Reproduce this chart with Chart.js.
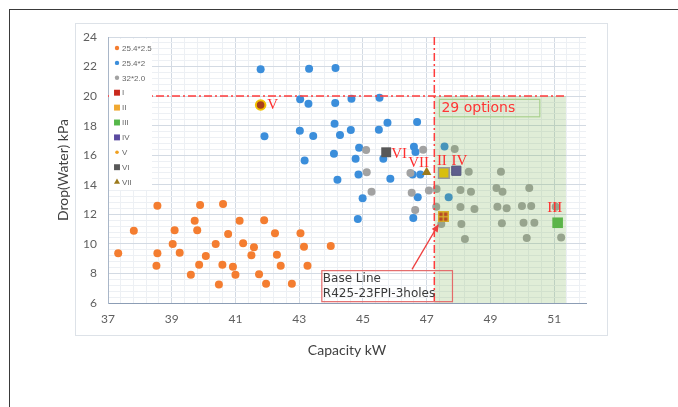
<!DOCTYPE html>
<html>
<head>
<meta charset="utf-8">
<script src="https://cdn.jsdelivr.net/npm/chart.js@4.4.0/dist/chart.umd.min.js"></script>
<style>
  html, body { margin: 0; padding: 0; background: #fff; }
  #wrap { position: relative; width: 678px; height: 407px; overflow: hidden; }
  #edge { position: absolute; left: 9px; top: 9px; right: -2px; bottom: -2px; border-left: 1px solid #3a3a3a; border-top: 1px solid #3a3a3a; }
  #frame { position: absolute; left: 75px; top: 23px; width: 531px; height: 311px; border: 1px solid #dde2e8; }
  canvas { position: absolute; left: 0; top: 0; }
</style>
</head>
<body>
<div id="wrap">
  <div id="edge"></div>
  <div id="frame"></div>
  <canvas id="chart" width="678" height="407"></canvas>
</div>
<script>
// tick labels
const xMajor = [37, 39, 41, 43, 45, 47, 49, 51];
const yMajor = [6, 8, 10, 12, 14, 16, 18, 20, 22, 24];

// capacity kW, drop kPa
const tube25x25 = [
  [37.32, 9.36], [37.81, 10.89], [38.55, 12.58], [38.55, 9.36], [38.52, 8.52],
  [39.09, 10.92], [39.03, 9.99], [39.25, 9.40], [39.72, 11.57], [39.80, 10.92],
  [39.89, 12.63], [39.60, 7.91], [39.86, 8.59], [40.07, 9.18], [40.38, 9.99],
  [40.61, 12.70], [40.77, 10.67], [40.59, 8.59], [40.48, 7.26], [40.92, 8.46],
  [41.00, 7.91], [41.13, 11.57], [41.24, 10.04], [41.58, 9.77], [41.50, 9.23],
  [41.74, 7.94], [41.90, 11.60], [42.24, 10.72], [43.04, 10.72], [42.30, 9.27],
  [42.42, 8.52], [41.96, 7.31], [42.77, 7.31], [43.15, 9.81], [43.26, 8.52],
  [43.99, 9.86]
];
const tube25x2 = [
  [41.79, 21.81], [43.31, 21.85], [44.14, 21.90], [43.03, 19.78], [43.29, 19.49],
  [44.13, 19.53], [44.64, 19.82], [45.52, 19.89], [44.11, 18.13], [45.77, 18.20],
  [46.70, 18.25], [43.02, 17.66], [43.44, 17.30], [44.28, 17.37], [44.62, 17.71],
  [45.50, 17.73], [41.91, 17.28], [44.88, 16.51], [44.09, 16.10], [43.17, 15.65],
  [44.77, 15.76], [45.64, 15.76], [46.60, 16.58], [46.65, 16.22], [44.86, 14.70],
  [44.20, 14.34], [45.86, 14.41], [46.56, 14.70], [46.80, 14.70], [44.99, 13.08],
  [46.72, 13.15], [44.84, 11.68], [46.58, 11.75], [47.56, 16.59], [47.69, 13.15]
];
const tube32x2 = [
  [45.10, 16.35], [45.12, 14.84], [45.27, 13.53], [46.49, 14.80], [46.53, 13.46],
  [46.64, 12.29], [46.89, 16.37], [47.07, 13.62], [47.30, 12.52], [47.88, 16.42],
  [48.32, 14.88], [49.33, 14.88], [47.31, 13.72], [48.06, 13.65], [48.39, 13.53],
  [49.19, 13.78], [49.38, 13.53], [50.22, 13.78], [48.06, 12.50], [48.50, 12.36],
  [49.22, 12.52], [49.51, 12.41], [49.99, 12.56], [50.28, 12.56], [51.05, 12.52],
  [47.46, 11.35], [48.09, 11.35], [49.36, 11.39], [50.04, 11.43], [50.38, 11.43],
  [48.20, 10.33], [50.14, 10.40], [51.22, 10.44]
];
const optI = [47.52, 11.84];
const optII = [47.54, 14.80];
const optIII = [51.11, 11.43];
const optIV = [47.93, 14.95];
const optV = [41.79, 19.40];
const optVI = [45.73, 16.20];
const optVII = [47.00, 14.84];

// limits
const limitCapacity = 47.24;
const limitDrop = 20;

const pts = arr => arr.map(p => ({ x: p[0], y: p[1] }));
const isMajor = (v, list) => list.some(m => Math.abs(m - v) < 1e-6);
const gridSteps = (lo, hi, step) => {
  const out = [];
  for (let i = 0; lo + i * step <= hi + 1e-6; i++) out.push({ value: +(lo + i * step).toFixed(4) });
  return out;
};

// base line marker
const baseMark = document.createElement('canvas');
baseMark.width = 11; baseMark.height = 11;
const b = baseMark.getContext('2d');
b.fillStyle = '#c9281c'; b.fillRect(0, 0, 11, 11);
b.strokeStyle = '#f2b322'; b.lineWidth = 1.4;
b.strokeRect(0.7, 0.7, 9.6, 9.6);
b.beginPath(); b.moveTo(5.5, 0); b.lineTo(5.5, 11); b.moveTo(0, 5.5); b.lineTo(11, 5.5); b.stroke();

const datasets = [
  { label: '25.4*2.5', data: pts(tube25x25), backgroundColor: '#f47d30', pointRadius: 4, order: 3, legendRadius: 2.2 },
  { label: '25.4*2', data: pts(tube25x2), backgroundColor: '#3b8edb', pointRadius: 4, order: 2, legendRadius: 2.2 },
  { label: '32*2.0', data: pts(tube32x2), backgroundColor: '#a2a2a2', pointRadius: 4, order: 1, legendRadius: 2.2 },
  { label: 'I', data: pts([optI]), pointStyle: baseMark, backgroundColor: '#c9281c', pointRadius: 6,
    legendStyle: 'rect', legendRadius: 4.2 },
  { label: 'II', data: pts([optII]), pointStyle: 'rect', backgroundColor: '#f5c400', borderColor: '#9f93b8',
    borderWidth: 1.5, pointRadius: 7.5, legendColor: '#f0a830', legendRadius: 4.2, tag: 'II', tagDx: -2, tagDy: -12 },
  { label: 'III', data: pts([optIII]), pointStyle: 'rect', backgroundColor: '#55b749', pointRadius: 7.5,
    legendRadius: 4.2, tag: 'III', tagDx: -3, tagDy: -15 },
  { label: 'IV', data: pts([optIV]), pointStyle: 'rect', backgroundColor: '#5a4aa0', borderColor: '#4a3c8c',
    borderWidth: 1, pointRadius: 6.5, legendRadius: 4.2, tag: 'IV', tagDx: 3, tagDy: -10 },
  { label: 'V', data: pts([optV]), pointStyle: 'circle', backgroundColor: '#a8401c', borderColor: '#f2c200',
    borderWidth: 2, pointRadius: 4.8, legendColor: '#f0a020', legendRadius: 1.8, tag: 'V', tagDx: 12, tagDy: 0 },
  { label: 'VI', data: pts([optVI]), pointStyle: 'rect', backgroundColor: '#585858', pointRadius: 7,
    legendRadius: 4.2, tag: 'VI', tagDx: 13, tagDy: 2 },
  { label: 'VII', data: pts([optVII]), pointStyle: 'triangle', backgroundColor: '#9c7a1c', pointRadius: 5.5,
    legendRadius: 3.5, tag: 'VII', tagDx: -8, tagDy: -9 }
];
datasets.forEach(d => { if (d.borderWidth === undefined) d.borderWidth = 0; if (d.order === undefined) d.order = 0; });

const overlay = {
  id: 'overlay',
  afterDatasetsDraw(chart, args, o) {
    const { ctx, chartArea: a, scales: { x, y } } = chart;
    ctx.save();
    const zx = x.getPixelForValue(o.refX), zr = x.getPixelForValue(o.zoneEnd);
    const zt = y.getPixelForValue(o.refY);
    ctx.fillStyle = 'rgba(112,173,71,0.22)';
    ctx.fillRect(zx, zt, zr - zx, a.bottom - zt);

    ctx.strokeStyle = '#ff3c3c'; ctx.lineWidth = 1.5; ctx.setLineDash([8, 3, 2, 3]);
    ctx.beginPath();
    ctx.moveTo(a.left, zt); ctx.lineTo(zr, zt);
    ctx.moveTo(zx, a.top); ctx.lineTo(zx, a.bottom);
    ctx.stroke();
    ctx.setLineDash([]);

    // 29 options box
    const ob = o.optionsBox;
    const ox1 = x.getPixelForValue(ob.x1), ox2 = x.getPixelForValue(ob.x2);
    const oy1 = y.getPixelForValue(ob.y1), oy2 = y.getPixelForValue(ob.y2);
    ctx.strokeStyle = '#a9d18e'; ctx.lineWidth = 1.2;
    ctx.strokeRect(ox1, oy1, ox2 - ox1, oy2 - oy1);
    ctx.fillStyle = '#ff3535'; ctx.font = '14px "DejaVu Sans"';
    ctx.textAlign = 'left'; ctx.textBaseline = 'middle';
    ctx.fillText(ob.text, ox1 + 2, (oy1 + oy2) / 2 + 0.5);

    // base line box
    const bb = o.baseBox;
    const bx1 = x.getPixelForValue(bb.x1), bx2 = x.getPixelForValue(bb.x2);
    const by1 = y.getPixelForValue(bb.y1), by2 = y.getPixelForValue(bb.y2);
    ctx.strokeStyle = '#e46a6a'; ctx.lineWidth = 1.2;
    ctx.strokeRect(bx1, by1, bx2 - bx1, by2 - by1);
    ctx.fillStyle = '#3a3a3a'; ctx.font = '12px "DejaVu Sans"';
    bb.lines.forEach((t, i) => ctx.fillText(t, bx1 + 1, by1 + 8.5 + i * 15));

    // arrow
    const ax1 = x.getPixelForValue(bb.arrowFrom[0]), ay1 = y.getPixelForValue(bb.arrowFrom[1]);
    const ax2 = x.getPixelForValue(bb.arrowTo[0]), ay2 = y.getPixelForValue(bb.arrowTo[1]);
    const ang = Math.atan2(ay2 - ay1, ax2 - ax1);
    ctx.strokeStyle = '#ee4040'; ctx.fillStyle = '#ee4040'; ctx.lineWidth = 1.3;
    ctx.beginPath(); ctx.moveTo(ax1, ay1);
    ctx.lineTo(ax2 - 6 * Math.cos(ang), ay2 - 6 * Math.sin(ang)); ctx.stroke();
    ctx.beginPath();
    ctx.moveTo(ax2, ay2);
    ctx.lineTo(ax2 - 8 * Math.cos(ang) + 3.5 * Math.sin(ang), ay2 - 8 * Math.sin(ang) - 3.5 * Math.cos(ang));
    ctx.lineTo(ax2 - 8 * Math.cos(ang) - 3.5 * Math.sin(ang), ay2 - 8 * Math.sin(ang) + 3.5 * Math.cos(ang));
    ctx.closePath(); ctx.fill();

    // point tags
    ctx.font = '15px "Liberation Serif"'; ctx.fillStyle = '#ff2e2e'; ctx.textAlign = 'center';
    chart.data.datasets.forEach((ds, i) => {
      if (!ds.tag) return;
      const el = chart.getDatasetMeta(i).data[0];
      ctx.fillText(ds.tag, el.x + ds.tagDx, el.y + ds.tagDy);
    });

    // legend inside plot
    ctx.fillStyle = '#fff';
    ctx.fillRect(a.left + 1, a.top + 2, 43, 151);
    ctx.font = '8px "Liberation Sans"'; ctx.textAlign = 'left';
    chart.data.datasets.forEach((ds, i) => {
      const lx = a.left + 9, ly = a.top + 11 + i * 14.9;
      ctx.fillStyle = ds.legendColor || ds.backgroundColor;
      Chart.helpers.drawPoint(ctx, { pointStyle: ds.legendStyle || ds.pointStyle, radius: ds.legendRadius,
        rotation: 0, borderWidth: 0 }, lx, ly);
      ctx.fillStyle = '#666';
      ctx.fillText(ds.label, lx + 5, ly + 0.5);
    });
    ctx.restore();
  }
};

const majorGrid = '#d3dae3', minorGrid = '#edf0f4';

new Chart(document.getElementById('chart'), {
  type: 'scatter',
  data: { datasets },
  plugins: [overlay],
  options: {
    responsive: false,
    animation: false,
    events: [],
    layout: { padding: { left: 0, top: 37, right: 92, bottom: 0 } },
    plugins: {
      legend: { display: false },
      tooltip: { enabled: false },
      overlay: {
        refX: limitCapacity,
        refY: limitDrop,
        zoneEnd: 51.37,
        optionsBox: { x1: 47.40, x2: 50.55, y1: 19.78, y2: 18.60, text: '29 options' },
        baseBox: { x1: 43.71, x2: 47.81, y1: 8.19, y2: 6.09, lines: ['Base Line', 'R425-23FPI-3holes'],
          arrowFrom: [46.54, 8.28], arrowTo: [47.38, 11.35] }
      }
    },
    scales: {
      x: {
        type: 'linear', min: 37, max: 52,
        afterBuildTicks: ax => { ax.ticks = gridSteps(37, 52, 0.4); },
        afterFit: ax => { ax.height = 104; },
        ticks: {
          autoSkip: false, maxRotation: 0, padding: 9, color: '#5f5f5f',
          font: { family: 'Lato', size: 12 },
          callback: v => isMajor(v, xMajor) ? String(Math.round(v)) : ''
        },
        grid: { drawTicks: false, color: c => isMajor(c.tick.value, xMajor) ? majorGrid : minorGrid },
        border: { color: '#8c9db5' },
        title: { display: true, text: 'Capacity kW', color: '#404040', font: { family: 'Lato', size: 14 },
          padding: { top: 0, bottom: 48 } }
      },
      y: {
        type: 'linear', min: 6, max: 24,
        afterBuildTicks: ax => { ax.ticks = gridSteps(6, 24, 0.4); },
        afterFit: ax => { ax.width = 108; },
        ticks: {
          autoSkip: false, padding: 11, color: '#5f5f5f',
          font: { family: 'Lato', size: 12 },
          callback: v => isMajor(v, yMajor) ? String(Math.round(v)) : ''
        },
        grid: { drawTicks: false, color: c => isMajor(c.tick.value, yMajor) ? majorGrid : minorGrid },
        border: { color: '#a9b6c8' },
        title: { display: true, text: 'Drop(Water) kPa', color: '#404040', font: { family: 'Lato', size: 14 },
          padding: { top: 55, bottom: 0 } }
      }
    }
  }
});
</script>
</body>
</html>
